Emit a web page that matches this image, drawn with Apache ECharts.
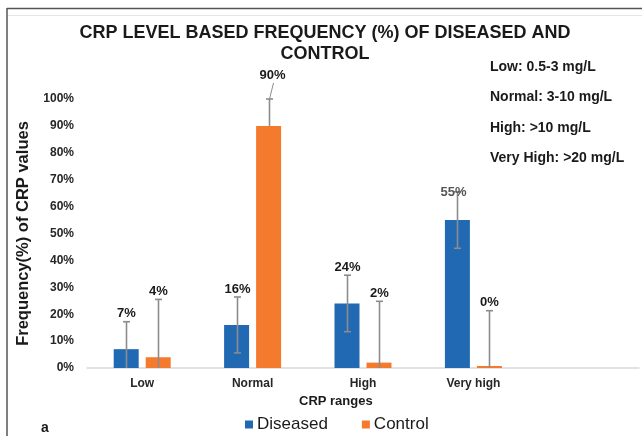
<!DOCTYPE html>
<html>
<head>
<meta charset="utf-8">
<script src="https://cdn.jsdelivr.net/npm/echarts@6/dist/echarts.min.js"></script>
<style>
  html, body { margin: 0; padding: 0; background: #fff; }
  #chart { width: 642px; height: 436px; }
</style>
</head>
<body>
<div id="chart"></div>
<script>
// CRP range categories (the last slot is left empty on the axis)
const categories = ['Low', 'Normal', 'High', 'Very high', ''];
const yTicks = [0, 10, 20, 30, 40, 50, 60, 70, 80, 90, 100];

// Frequency (%) per CRP range
const diseased = [7, 16, 24, 55];
const control = [4, 90, 2, 0];

// Error margins (percentage points) above / below each bar
const diseasedPlus = [10.2, 10.4, 10.5, 10.5];
const diseasedMinus = [10.2, 10.4, 10.5, 10.5];
const controlPlus = [21.5, 10, 22.8, 21.3];
const controlMinus = [21.5, 0, 22.8, 21.3];

const rangeNotes = ['Low: 0.5-3 mg/L', 'Normal: 3-10 mg/L', 'High: >10 mg/L', 'Very High: >20 mg/L'];

const BLUE = '#2169B2';
const ORANGE = '#F47B2E';
const ERR = '#8C8C8C';
const BAR_W = 25;
const BAR_GAP = 7;
const FONT = 'Liberation Sans, Arial, sans-serif';

// labels that were dragged away from their bar, with a leader line
const labelMoves = {
  '1-1': { dx: 3, lift: 24, leader: true },
  '0-3': { dx: -4, lift: -1, grey: true }
};

function errorData(values, plus, minus) {
  return values.map((v, i) => [i, Math.max(0, v - minus[i]), v + plus[i], v]);
}

function errorSeries(name, values, plus, minus, seriesIdx) {
  const shift = (seriesIdx === 0 ? -1 : 1) * (BAR_W + BAR_GAP) / 2;
  return {
    type: 'custom',
    name: name + ' error',
    z: 5,
    silent: true,
    data: errorData(values, plus, minus),
    encode: { x: 0, y: [1, 2] },
    renderItem(params, api) {
      const i = api.value(0);
      const lo = api.value(1);
      const hi = api.value(2);
      const v = api.value(3);
      const pLo = api.coord([i, lo]);
      const pHi = api.coord([i, hi]);
      const x = Math.round(pLo[0] + shift) + 0.5;
      const cap = 3.5;
      const kids = [{
        type: 'line',
        shape: { x1: x, y1: pLo[1], x2: x, y2: pHi[1] },
        style: { stroke: ERR, lineWidth: 1.6 }
      }, {
        type: 'line',
        shape: { x1: x - cap, y1: pHi[1], x2: x + cap, y2: pHi[1] },
        style: { stroke: ERR, lineWidth: 1.6 }
      }];
      if (lo > 0 && lo < v) {
        kids.push({
          type: 'line',
          shape: { x1: x - cap, y1: pLo[1], x2: x + cap, y2: pLo[1] },
          style: { stroke: ERR, lineWidth: 1.6 }
        });
      }
      const mv = labelMoves[seriesIdx + '-' + i] || {};
      const lift = mv.lift !== undefined ? mv.lift : 8;
      const ly = pHi[1] - lift;
      const lx = x + (mv.dx || 0);
      if (mv.leader) {
        kids.push({
          type: 'line',
          shape: { x1: x, y1: pHi[1], x2: lx + 1, y2: ly + 8 },
          style: { stroke: ERR, lineWidth: 1 }
        });
      }
      kids.push({
        type: 'text',
        z2: 10,
        style: {
          x: lx, y: ly,
          text: v + '%',
          align: 'center', verticalAlign: 'middle',
          fill: mv.grey ? '#555' : '#1a1a1a',
          font: 'bold 13px ' + FONT
        }
      });
      return { type: 'group', children: kids };
    }
  };
}

const chart = echarts.init(document.getElementById('chart'), null, { renderer: 'canvas' });

chart.setOption({
  animation: false,
  backgroundColor: '#ffffff',
  title: {
    text: 'CRP LEVEL BASED FREQUENCY (%) OF DISEASED AND\nCONTROL',
    left: 320,
    textAlign: 'center',
    top: 18,
    textStyle: { fontFamily: FONT, fontSize: 18, fontWeight: 'bold', color: '#1a1a1a', lineHeight: 21 }
  },
  legend: {
    data: ['Diseased', 'Control'],
    left: 240,
    top: 411,
    icon: 'rect',
    itemWidth: 8,
    itemHeight: 8,
    itemGap: 34,
    textStyle: { fontFamily: FONT, fontSize: 17, color: '#1a1a1a', padding: [0, 0, 0, -1] }
  },
  grid: { left: 87, right: 3, top: 99, bottom: 68, containLabel: false },
  xAxis: {
    type: 'category',
    data: categories,
    axisLine: { show: true, lineStyle: { color: '#D9D9D9', width: 1.5 } },
    axisTick: { show: false },
    axisLabel: { fontFamily: FONT, fontSize: 12, fontWeight: 'bold', color: '#262626', margin: 10 }
  },
  yAxis: {
    type: 'value',
    min: yTicks[0],
    max: yTicks[yTicks.length - 1],
    interval: yTicks[1] - yTicks[0],
    name: 'Frequency(%) of CRP values',
    nameLocation: 'middle',
    nameGap: 49,
    nameTextStyle: { fontFamily: FONT, fontSize: 16.5, fontWeight: 'bold', color: '#1a1a1a' },
    axisLine: { show: false },
    axisTick: { show: false },
    splitLine: { show: false },
    axisLabel: {
      formatter: '{value}%',
      fontFamily: FONT, fontSize: 12, fontWeight: 'bold', color: '#262626', margin: 13
    }
  },
  series: [
    {
      name: 'Diseased',
      type: 'bar',
      data: diseased,
      barWidth: BAR_W,
      barGap: (BAR_GAP / BAR_W * 100) + '%',
      itemStyle: { color: BLUE }
    },
    {
      name: 'Control',
      type: 'bar',
      data: control,
      barWidth: BAR_W,
      barMinHeight: 2,
      itemStyle: { color: ORANGE }
    },
    errorSeries('Diseased', diseased, diseasedPlus, diseasedMinus, 0),
    errorSeries('Control', control, controlPlus, controlMinus, 1)
  ],
  graphic: [
    // frame lines
    { type: 'line', shape: { x1: 7, y1: 8.5, x2: 642, y2: 8.5 }, style: { stroke: '#555', lineWidth: 1.5 } },
    { type: 'line', shape: { x1: 7, y1: 8, x2: 7, y2: 436 }, style: { stroke: '#555', lineWidth: 1.5 } },
    { type: 'line', shape: { x1: 8, y1: 15.5, x2: 642, y2: 15.5 }, style: { stroke: '#E6E6E6', lineWidth: 1 } },
    // x-axis title
    { type: 'text', left: 299, top: 395, style: { text: 'CRP ranges', font: 'bold 13px ' + FONT, fill: '#1a1a1a' } },
    // panel letter
    { type: 'text', left: 41, top: 421, style: { text: 'a', font: 'bold 14px ' + FONT, fill: '#1a1a1a' } }
  ].concat(rangeNotes.map((t, k) => ({
    type: 'text', left: 490, top: 60 + k * 30.4,
    style: { text: t, font: 'bold 14px ' + FONT, fill: '#1a1a1a' }
  })))
});
</script>
</body>
</html>
